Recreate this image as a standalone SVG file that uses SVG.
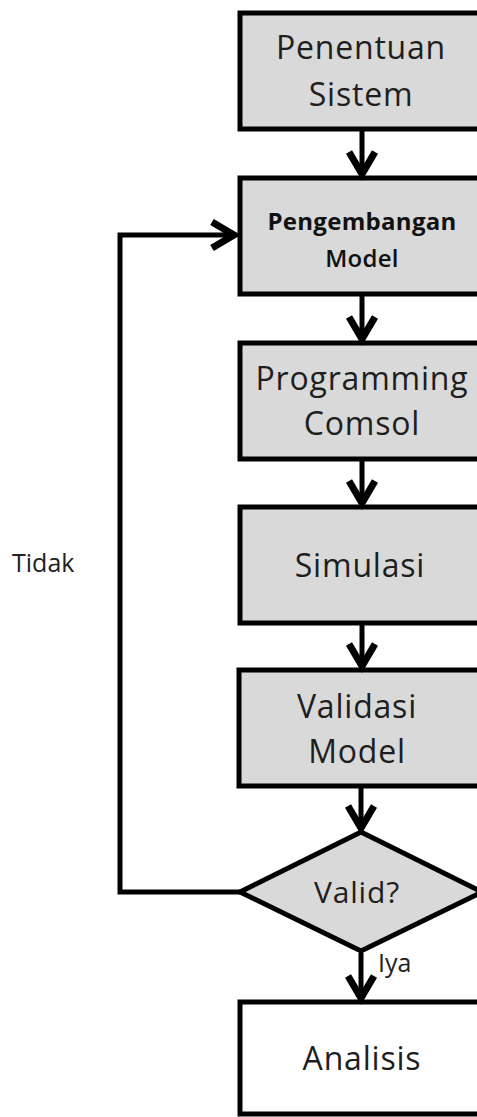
<svg xmlns="http://www.w3.org/2000/svg" width="477" height="1117" viewBox="0 0 477 1117">
  <style>
    .box { fill: #d9d9d9; stroke: #000; stroke-width: 5; }
    .white { fill: #ffffff; }
    .t { font-family: "Open Sans", "Liberation Sans", sans-serif; font-size: 32px; fill: #1e1e1e; text-anchor: middle; letter-spacing: 0.8px; }
    .tb { font-family: "Open Sans", "Liberation Sans", sans-serif; font-size: 24px; font-weight: bold; fill: #111; text-anchor: middle; letter-spacing: 0.3px; }
    .lbl { font-family: "Open Sans", "Liberation Sans", sans-serif; font-size: 25px; fill: #222; }
    .line { fill: none; stroke: #000; stroke-width: 5; }
    .head { fill: none; stroke: #000; stroke-width: 7; stroke-linejoin: miter; stroke-linecap: butt; }
  </style>
  <rect x="0" y="0" width="477" height="1117" fill="#ffffff"/>

  <g id="n-penentuan">
    <rect class="box" x="240" y="13" width="260" height="116"/>
    <text class="t" x="361" y="59">Penentuan</text>
    <text class="t" x="361" y="106">Sistem</text>
  </g>
  <g id="n-pengembangan">
    <rect class="box" x="240" y="178" width="260" height="116"/>
    <text class="tb" x="362" y="230">Pengembangan</text>
    <text class="tb" x="362" y="267" style="font-weight:600">Model</text>
  </g>
  <g id="n-programming">
    <rect class="box" x="240" y="343" width="260" height="116"/>
    <text class="t" x="362" y="390">Programming</text>
    <text class="t" x="362" y="435">Comsol</text>
  </g>
  <g id="n-simulasi">
    <rect class="box" x="240" y="507" width="260" height="116"/>
    <text class="t" x="360" y="577">Simulasi</text>
  </g>
  <g id="n-validasi">
    <rect class="box" x="239" y="670" width="260" height="116"/>
    <text class="t" x="357" y="718">Validasi</text>
    <text class="t" x="357" y="763">Model</text>
  </g>
  <g id="n-valid">
    <polygon class="box" points="361,832 482,892 361,951 240,892"/>
    <text class="t" x="357" y="903" style="font-size:30px">Valid?</text>
  </g>
  <g id="n-analisis">
    <rect class="box white" x="240" y="1002" width="260" height="112"/>
    <text class="t" x="362" y="1070">Analisis</text>
  </g>

  <g id="connectors">
    <line class="line" x1="362" y1="131" x2="362" y2="174"/>
    <polyline class="head" points="349,152 362,174 375,152"/>
    <line class="line" x1="362" y1="296" x2="362" y2="339"/>
    <polyline class="head" points="349,317 362,339 375,317"/>
    <line class="line" x1="362" y1="461" x2="362" y2="503"/>
    <polyline class="head" points="349,481 362,503 375,481"/>
    <line class="line" x1="362" y1="625" x2="362" y2="666"/>
    <polyline class="head" points="349,644 362,666 375,644"/>
    <line class="line" x1="361" y1="788" x2="361" y2="828"/>
    <polyline class="head" points="348,806 361,828 374,806"/>
    <line class="line" x1="361" y1="953" x2="361" y2="998"/>
    <polyline class="head" points="348,976 361,998 374,976"/>
    <polyline class="line" points="240,892 120,892 120,235 234,235"/>
    <polyline class="head" points="212,222 234,235 212,248"/>
    <text class="lbl" x="378" y="972">Iya</text>
    <text class="lbl" x="12" y="572">Tidak</text>
  </g>
</svg>
